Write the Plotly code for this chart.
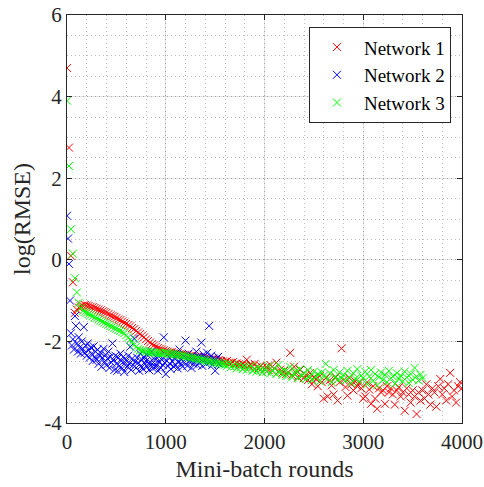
import numpy as np
import plotly.graph_objects as go

# ---- data -------------------------------------------------------------
net1_x = np.arange(0, 4001, 20)
net1_y = [
    4.70, 2.75, 0.10, -0.55, -1.30, -1.22, -1.17, -1.14, -1.12, -1.11,
    -1.12, -1.13, -1.15, -1.16, -1.18, -1.20, -1.22, -1.24, -1.26, -1.28,
    -1.30, -1.33, -1.36, -1.38, -1.40, -1.43, -1.46, -1.48, -1.51, -1.54,
    -1.57, -1.60, -1.63, -1.67, -1.70, -1.74, -1.78, -1.82, -1.86, -1.90,
    -1.95, -1.99, -2.03, -2.07, -2.10, -2.13, -2.16, -2.18, -2.20, -2.22,
    -2.24, -2.25, -2.27, -2.26, -2.29, -2.30, -2.29, -2.31, -2.32, -2.33,
    -2.33, -2.34, -2.36, -2.35, -2.37, -2.38, -2.37, -2.39, -2.40, -2.40,
    -2.41, -2.43, -2.42, -2.44, -2.45, -2.44, -2.47, -2.46, -2.48, -2.49,
    -2.50, -2.48, -2.52, -2.53, -2.51, -2.55, -2.54, -2.56, -2.58, -2.55,
    -2.58, -2.45, -2.60, -2.57, -2.62, -2.55, -2.63, -2.66, -2.60, -2.64,
    -2.68, -2.62, -2.70, -2.58, -2.72, -2.66, -2.52, -2.74, -2.69, -2.77,
    -2.72, -2.80, -2.75, -2.28, -2.83, -2.62, -2.78, -2.88, -2.70, -2.85,
    -2.90, -2.82, -2.95, -2.78, -3.05, -2.88, -2.92, -3.10, -2.85, -3.00,
    -3.40, -2.90, -3.35, -2.95, -3.08, -3.30, -2.88, -3.45, -3.00, -2.17,
    -2.95, -3.12, -3.33, -2.90, -3.05, -3.20, -2.98, -3.10, -3.02, -3.15,
    -3.40, -3.35, -3.00, -3.18, -3.53, -3.10, -3.40, -3.65, -3.15, -3.25,
    -3.20, -3.53, -3.10, -3.25, -3.15, -3.30, -3.55, -3.20, -3.12, -3.35,
    -3.25, -3.70, -3.15, -3.30, -3.50, -3.20, -3.35, -3.78, -3.25, -3.45,
    -3.20, -3.40, -3.05, -3.30, -3.55, -3.15, -3.25, -3.60, -3.10, -2.92,
    -3.30, -3.15, -3.45, -3.05, -2.77, -3.35, -3.20, -3.50, -3.10, -3.00,
    -3.15,
]

net2_x = np.arange(0, 1541, 10)
net2_y = [
    1.08, 0.52, -0.10, -1.00, -1.80, -2.10, -1.95, -2.20, -1.38, -1.62,
    -2.05, -2.25, -1.90, -2.15, -2.30, -2.00, -2.18, -1.65, -2.28, -2.10,
    -2.35, -2.05, -2.22, -2.40, -2.15, -2.30, -2.48, -2.12, -2.38, -2.25,
    -2.45, -2.20, -2.55, -2.35, -2.28, -2.62, -2.40, -2.18, -2.50, -2.33,
    -2.58, -2.42, -2.25, -2.65, -2.38, -2.52, -2.05, -2.45, -2.70, -2.35,
    -2.55, -2.72, -2.40, -2.60, -2.30, -2.48, -2.66, -2.38, -2.75, -2.52,
    -2.45, -2.62, -2.35, -2.55, -2.13, -2.70, -2.42, -2.58, -1.93, -2.50,
    -2.65, -2.40, -2.52, -2.72, -2.30, -2.60, -2.45, -2.68, -2.38, -2.55,
    -2.48, -2.62, -2.35, -2.70, -2.50, -2.58, -2.25, -2.66, -2.42, -2.55,
    -2.62, -2.40, -2.72, -2.50, -2.35, -2.65, -2.45, -2.58, -1.90, -2.52,
    -2.80, -2.48, -2.60, -2.38, -2.55, -2.68, -2.30, -2.50, -2.62, -2.42,
    -2.58, -2.35, -2.66, -2.48, -2.20, -2.55, -2.45, -2.62, -2.38, -2.52,
    -1.98, -2.42, -2.60, -2.30, -2.50, -2.45, -2.65, -2.35, -2.55, -2.40,
    -2.48, -2.25, -2.58, -2.38, -2.52, -2.42, -2.03, -2.60, -2.32, -2.46,
    -2.40, -2.55, -2.28, -2.45, -1.62, -2.50, -2.35, -2.58, -2.42, -2.48,
    -2.72, -2.45, -2.52, -2.38, -2.55,
]

net3_x = np.arange(0, 3601, 20)
net3_y = [
    3.90, 2.30, 0.75, 0.15, -0.45, -0.80, -1.05, -1.18, -1.25, -1.28,
    -1.30, -1.33, -1.35, -1.38, -1.41, -1.43, -1.46, -1.49, -1.51, -1.54,
    -1.57, -1.59, -1.62, -1.64, -1.67, -1.69, -1.72, -1.74, -1.77, -1.80,
    -1.85, -1.90, -1.96, -2.02, -2.08, -2.13, -2.18, -2.21, -2.23, -2.24,
    -2.25, -2.26, -2.26, -2.27, -2.27, -2.28, -2.28, -2.29, -2.29, -2.30,
    -2.28, -2.29, -2.30, -2.31, -2.31, -2.32, -2.33, -2.34, -2.35, -2.36,
    -2.37, -2.38, -2.39, -2.40, -2.41, -2.42, -2.43, -2.44, -2.45, -2.46,
    -2.47, -2.48, -2.49, -2.50, -2.51, -2.52, -2.53, -2.54, -2.55, -2.56,
    -2.57, -2.60, -2.55, -2.63, -2.58, -2.61, -2.66, -2.59, -2.64, -2.68,
    -2.62, -2.70, -2.66, -2.60, -2.72, -2.67, -2.74, -2.63, -2.70, -2.76,
    -2.68, -2.74, -2.60, -2.78, -2.72, -2.66, -2.80, -2.58, -2.75, -2.82,
    -2.70, -2.85, -2.76, -2.62, -2.88, -2.79, -2.72, -2.90, -2.68, -2.84,
    -2.78, -2.92, -2.70, -2.86, -2.95, -2.74, -2.88, -2.80, -2.98, -2.76,
    -2.84, -2.55, -2.92, -2.78, -3.00, -2.70, -2.86, -2.94, -2.76, -2.90,
    -2.82, -2.96, -2.72, -2.88, -3.02, -2.78, -2.92, -2.68, -2.98, -2.84,
    -2.90, -2.74, -3.05, -2.86, -2.70, -2.96, -2.80, -3.08, -2.88, -2.76,
    -2.94, -2.82, -3.00, -2.72, -2.90, -2.86, -3.04, -2.78, -2.92, -2.84,
    -2.98, -2.74, -2.88, -3.02, -2.80, -2.94, -2.65, -2.86, -2.96, -2.82,
    -2.90,
]

series_names = ["Network 1", "Network 2", "Network 3"]
series_colors = ["#ff0000", "#0000ff", "#00ff00"]

y_tickvals = [-4, -2, 0, 2, 4, 6]
y_ticktext = ["-4", "-2", "0", "2", "4", "6"]
x_tickvals = [0, 1000, 2000, 3000, 4000]
x_ticktext = ["0", "1000", "2000", "3000", "4000"]

# ---- figure -----------------------------------------------------------
FONT = "Liberation Serif, Times New Roman, serif"
AXIS_COLOR = "#262626"

fig = go.Figure()
for name, color, xs, ys in zip(series_names, series_colors,
                               [net1_x, net2_x, net3_x],
                               [net1_y, net2_y, net3_y]):
    fig.add_trace(go.Scatter(
        x=xs, y=ys, mode="markers", name=name,
        marker=dict(symbol="x-thin-open", size=8, color=color,
                    line=dict(color=color, width=1)),
    ))

common_axis = dict(
    automargin=False,
    showline=True, linecolor=AXIS_COLOR, linewidth=1, mirror="ticks",
    ticks="inside", ticklen=5, tickcolor=AXIS_COLOR, tickwidth=1,
    showgrid=True, gridcolor="rgba(38,38,38,0.13)", gridwidth=1,
    zeroline=False,
    tickfont=dict(family=FONT, size=21, color=AXIS_COLOR),
    title_font=dict(family=FONT, size=24, color=AXIS_COLOR),
)

fig.update_xaxes(
    range=[0, 4000], tickvals=x_tickvals, ticktext=x_ticktext,
    title_text="Mini-batch rounds", title_standoff=6,
    minor=dict(dtick=200, showgrid=True, griddash="1px,3px",
               gridcolor="rgba(38,38,38,0.3)", gridwidth=1, ticks=""),
    **common_axis,
)
fig.update_yaxes(
    range=[-4, 6], tickvals=y_tickvals, ticktext=y_ticktext,
    title_text="log(RMSE)", title_standoff=6,
    minor=dict(dtick=0.5, showgrid=True, griddash="1px,3px",
               gridcolor="rgba(38,38,38,0.3)", gridwidth=1, ticks=""),
    **common_axis,
)

fig.update_layout(
    width=484, height=487,
    margin=dict(l=67, r=22, t=15, b=64),
    paper_bgcolor="white", plot_bgcolor="white",
    font=dict(family=FONT, color=AXIS_COLOR),
    showlegend=True,
    legend=dict(
        x=0.972, y=0.97, xanchor="right", yanchor="top",
        bgcolor="white", bordercolor=AXIS_COLOR, borderwidth=1,
        font=dict(family=FONT, size=19, color="#000000"),
        itemwidth=44, tracegroupgap=0,
    ),
)

fig.write_html("out.html")
